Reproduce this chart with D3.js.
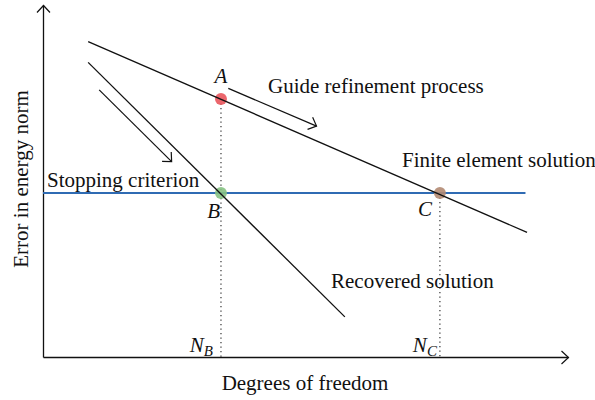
<!DOCTYPE html>
<html>
<head>
<meta charset="utf-8">
<script src="https://cdn.jsdelivr.net/npm/d3@7"></script>
<style>
  body { margin: 0; background: #fff; }
  text { font-family: "Liberation Serif", "DejaVu Serif", serif; font-size: 21px; fill: #111; }
  .lbl-it { font-style: italic; }
</style>
</head>
<body>
<div id="chart"></div>
<script>
// schematic values, in arbitrary units (0-100 on both axes)
const feLine = [{ x: 8.6, y: 89.6 }, { x: 92.2, y: 35.4 }];        // finite element solution
const recLine = [{ x: 8.6, y: 83.7 }, { x: 57.5, y: 11.4 }];       // recovered solution
const stopLine = [{ x: 0, y: 46.6 }, { x: 91.9, y: 46.6 }];        // stopping criterion
const guideArrows = [
  [{ x: 10.7, y: 75.9 }, { x: 24.5, y: 55.5 }],
  [{ x: 35.3, y: 76.3 }, { x: 52.1, y: 65.6 }],
];
const pointNames = ['A', 'B', 'C'];
const pointX = [33.9, 33.9, 75.6];
const pointY = [73.3, 46.6, 46.6];
const pointColors = ['#e9555c', '#86c283', '#b38a72'];

const width = 595;
const height = 400;

// set the ranges
const xScale = d3.scaleLinear().domain([0, 100]).range([43, 568]);
const yScale = d3.scaleLinear().domain([0, 100]).range([357, 5]);

const svg = d3
  .select('#chart')
  .append('svg')
  .attr('width', width)
  .attr('height', height);

// open arrow head
svg.append('defs')
  .append('marker')
  .attr('id', 'arrow')
  .attr('markerUnits', 'userSpaceOnUse')
  .attr('orient', 'auto')
  .attr('markerWidth', 20)
  .attr('markerHeight', 20)
  .attr('viewBox', '-10 -10 20 20')
  .attr('refX', 0)
  .attr('refY', 0)
  .attr('overflow', 'visible')
  .append('path')
  .attr('d', 'M-7,-6.5L0,0L-7,6.5')
  .attr('fill', 'none')
  .attr('stroke', '#111')
  .attr('stroke-width', 1.2);

const line = d3.line().x(d => xScale(d.x)).y(d => yScale(d.y));

// axes, no ticks, arrow at the end
const xAxis = svg.append('g')
  .attr('transform', `translate(0,${yScale(0)})`)
  .call(d3.axisBottom(xScale).tickValues([]).tickSizeOuter(0));
const yAxis = svg.append('g')
  .attr('transform', `translate(${xScale(0)},0)`)
  .call(d3.axisLeft(yScale).tickValues([]).tickSizeOuter(0));
[xAxis, yAxis].forEach((g) => {
  g.select('.domain')
    .attr('stroke', '#111')
    .attr('stroke-width', 1.3)
    .attr('marker-end', 'url(#arrow)');
});

// dotted drops from A (through B) and C
pointX.forEach((px, i) => {
  if (i === 1) return; // A and B share the same drop
  svg.append('path')
    .attr('d', line([{ x: px, y: pointY[i] }, { x: px, y: 0 }]))
    .attr('stroke', '#333')
    .attr('stroke-width', 1.2)
    .attr('stroke-dasharray', '1.2,3.3')
    .attr('fill', 'none');
});

// stopping criterion
svg.append('path')
  .attr('d', line(stopLine))
  .attr('stroke', '#2f6bb3')
  .attr('stroke-width', 2)
  .attr('fill', 'none');

// points
svg.selectAll('.pt')
  .data(pointNames)
  .enter()
  .append('circle')
  .attr('class', 'pt')
  .attr('cx', (d, i) => xScale(pointX[i]))
  .attr('cy', (d, i) => yScale(pointY[i]))
  .attr('r', 6)
  .attr('fill', (d, i) => pointColors[i])
  .attr('fill-opacity', 0.9);

// the two solution lines
[feLine, recLine].forEach((l) => {
  svg.append('path')
    .attr('d', line(l))
    .attr('stroke', '#111')
    .attr('stroke-width', 1.3)
    .attr('fill', 'none');
});

// guide arrows
guideArrows.forEach((a) => {
  svg.append('path')
    .attr('d', line(a))
    .attr('stroke', '#111')
    .attr('stroke-width', 1.2)
    .attr('fill', 'none')
    .attr('marker-end', 'url(#arrow)');
});

// point labels
const labelOffsets = [[0, -16, 'middle'], [-1, 25, 'end'], [-8, 23, 'end']];
pointNames.forEach((n, i) => {
  svg.append('text')
    .attr('class', 'lbl-it')
    .attr('x', xScale(pointX[i]) + labelOffsets[i][0])
    .attr('y', yScale(pointY[i]) + labelOffsets[i][1])
    .attr('text-anchor', labelOffsets[i][2])
    .text(n);
});

// N_B, N_C on the axis
const nOffsets = { 1: -8, 2: -3 };
[1, 2].forEach((i) => {
  const t = svg.append('text')
    .attr('class', 'lbl-it')
    .attr('x', xScale(pointX[i]) + nOffsets[i])
    .attr('y', yScale(0) - 5)
    .attr('text-anchor', 'end');
  t.append('tspan').text('N');
  t.append('tspan')
    .attr('dy', 4)
    .style('font-size', '15px')
    .text(pointNames[i]);
});

// annotations
const notes = [
  ['Guide refinement process', 268, 93],
  ['Finite element solution', 402, 167],
  ['Stopping criterion', 47, 187],
  ['Recovered solution', 331, 288],
];
notes.forEach(([t, x, y]) => {
  svg.append('text').attr('x', x).attr('y', y).text(t);
});

// axis titles
svg.append('text')
  .attr('x', 305)
  .attr('y', 390)
  .attr('text-anchor', 'middle')
  .text('Degrees of freedom');

svg.append('text')
  .attr('transform', 'translate(28,179) rotate(-90)')
  .attr('text-anchor', 'middle')
  .text('Error in energy norm');
</script>
</body>
</html>
